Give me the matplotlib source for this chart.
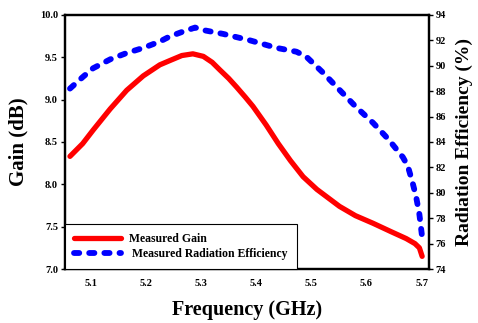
import matplotlib
matplotlib.use("Agg")
from matplotlib import pyplot as plt

# frequency points (GHz)
freq_gain = [5.062, 5.085, 5.104, 5.135, 5.165, 5.195, 5.225, 5.243, 5.265, 5.285,
             5.304, 5.320, 5.334, 5.350, 5.364, 5.380, 5.394, 5.418, 5.440, 5.462,
             5.485, 5.510, 5.551, 5.580, 5.612, 5.645, 5.672, 5.688, 5.696, 5.701]
gain = [8.33, 8.48, 8.64, 8.89, 9.11, 9.28, 9.41, 9.46, 9.52, 9.54,
        9.51, 9.44, 9.35, 9.25, 9.15, 9.03, 8.92, 8.70, 8.48, 8.28,
        8.09, 7.94, 7.74, 7.63, 7.54, 7.44, 7.36, 7.30, 7.25, 7.15]

freq_eff = [5.062, 5.085, 5.104, 5.135, 5.165, 5.195, 5.225, 5.243, 5.265, 5.289,
            5.304, 5.340, 5.388, 5.437, 5.473, 5.491, 5.520, 5.551, 5.580, 5.612,
            5.640, 5.666, 5.675, 5.683, 5.690, 5.696, 5.701]
eff = [88.2, 89.1, 89.8, 90.5, 91.0, 91.4, 91.9, 92.3, 92.65, 93.0,
       92.8, 92.5, 92.0, 91.4, 91.1, 90.7, 89.5, 88.1, 86.8, 85.5,
       84.2, 82.8, 82.1, 80.9, 79.7, 78.3, 76.5]

plt.rcParams['font.family'] = ['Liberation Serif', 'DejaVu Serif']
plt.rcParams['font.weight'] = 'bold'

fig = plt.figure(figsize=(4.78, 3.23), dpi=100)
ax = fig.add_axes([0.136, 0.167, 0.761, 0.787])
ax2 = ax.twinx()

# gain curve on the left axis
l1, = ax.plot(freq_gain, gain, color='red', lw=3.8, solid_capstyle='round',
              solid_joinstyle='round', label='Measured Gain')
# efficiency curve on the right axis
l2, = ax2.plot(freq_eff, eff, color='blue', lw=4.2, ls=(0, (0.9, 1.7)),
               dash_capstyle='round', dash_joinstyle='round',
               label=' Measured Radiation Efficiency')

ax.set_xlim(5.053, 5.713)
ax.set_ylim(7.0, 10.0)
ax2.set_ylim(74, 94)
ax.set_xticks([5.1, 5.2, 5.3, 5.4, 5.5, 5.6, 5.7])
ax.set_yticks([7.0, 7.5, 8.0, 8.5, 9.0, 9.5, 10.0])
ax2.set_yticks(range(74, 95, 2))

ax.tick_params(axis='x', length=0, labelsize=7.5, pad=7)
ax.tick_params(axis='y', length=3, width=1, labelsize=7.5, pad=2)
ax2.tick_params(axis='y', length=3, width=1, labelsize=7.5, pad=2)
for t in ax.get_xticklabels() + ax.get_yticklabels() + ax2.get_yticklabels():
    t.set_fontweight('bold')

for a in (ax, ax2):
    for s in a.spines.values():
        s.set_linewidth(1.6)

ax.set_xlabel('Frequency (GHz)', fontsize=14.5, fontweight='bold', labelpad=9)
ax.set_ylabel('Gain (dB)', fontsize=15, fontweight='bold', labelpad=8)
ax2.set_ylabel('Radiation Efficiency (%)', fontsize=14, fontweight='bold', labelpad=7)

leg = ax2.legend(handles=[l1, l2], loc='lower left', bbox_to_anchor=(0, 0),
                 borderaxespad=0, fancybox=False, framealpha=1,
                 handlelength=4.0, edgecolor='black', borderpad=0.75,
                 labelspacing=0.3, handletextpad=0.7,
                 prop={'weight': 'bold', 'size': 8.5})
leg.get_frame().set_linewidth(0.8)

fig.savefig('out.png', dpi=100)
